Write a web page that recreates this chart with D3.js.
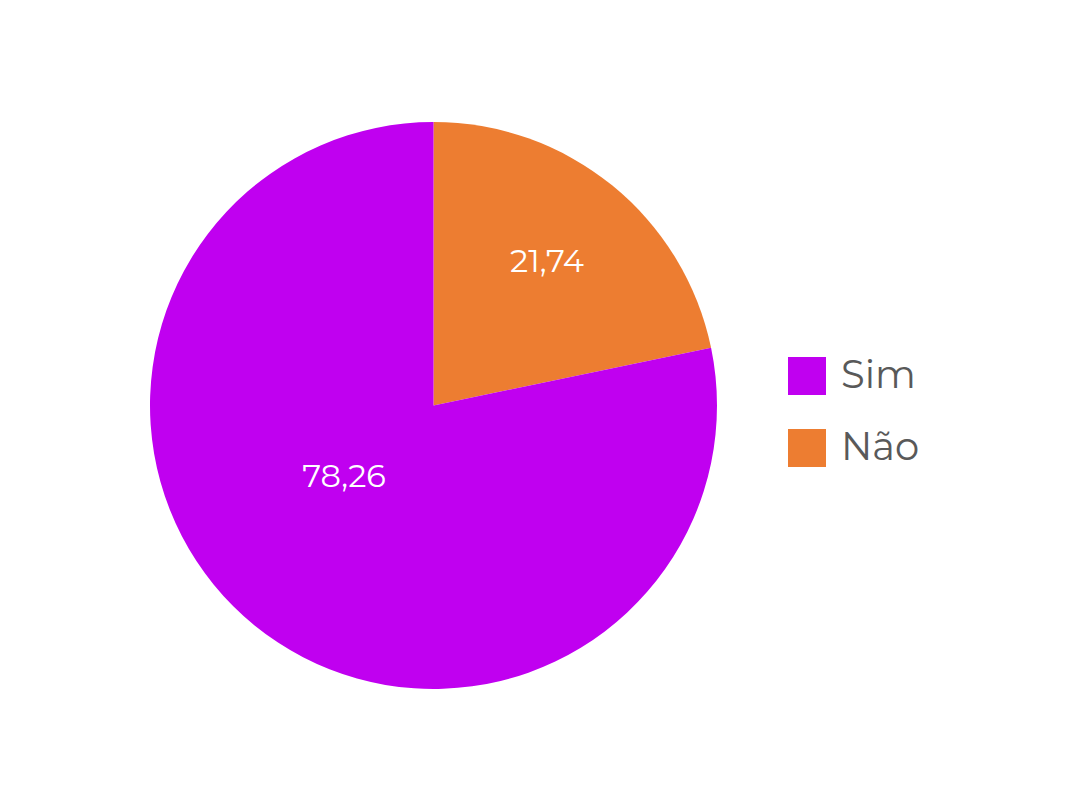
<!DOCTYPE html>
<html><head><meta charset="utf-8">
<script src="https://cdn.jsdelivr.net/npm/d3@7"></script>
<style>body{margin:0;background:#fff}</style>
</head><body>
<script>
const categories = ["Sim", "Não"];
const values = [78.26, 21.74];
const labels = ["78,26", "21,74"];
const colors = ["#C000F0", "#ED7D31"];

const W = 1080, H = 790;
const svg = d3.select("body").append("svg").attr("width", W).attr("height", H);
const cx = 433.5, cy = 405.5, r = 283.5;
const font = "Montserrat, 'Open Sans', Lato, sans-serif";

const data = categories.map((c, i) => ({cat: c, value: values[i], label: labels[i], color: colors[i]}));
const pie = d3.pie().value(d => d.value).sort(null);
const order = [data[1], data[0]];
const arcs = pie(order);
const arc = d3.arc().innerRadius(0).outerRadius(r);
const g = svg.append("g").attr("transform", `translate(${cx},${cy})`);
g.selectAll("path").data(arcs).enter().append("path")
  .attr("d", arc).attr("fill", d => d.data.color);
// label placement (offsets from pie centre, as in the source chart)
const labelPos = {"Não": [113.5, -145], "Sim": [-89.5, 69.5]};
g.selectAll("text").data(arcs).enter().append("text")
  .attr("transform", d => `translate(${labelPos[d.data.cat]})`)
  .attr("text-anchor", "middle").attr("dominant-baseline", "central")
  .attr("fill", "#fff").attr("font-family", font).attr("font-size", 32)
  .text(d => d.data.label);

const lg = svg.append("g");
data.forEach((d, i) => {
  const y = 357 + i * 72;
  lg.append("rect").attr("x", 788).attr("y", y).attr("width", 38).attr("height", 38).attr("fill", d.color);
  lg.append("text").attr("x", 841).attr("y", y + 17).attr("dominant-baseline", "central")
    .attr("fill", "#595959").attr("font-family", font).attr("font-size", 38.5).text(d.cat);
});
</script>
</body></html>
